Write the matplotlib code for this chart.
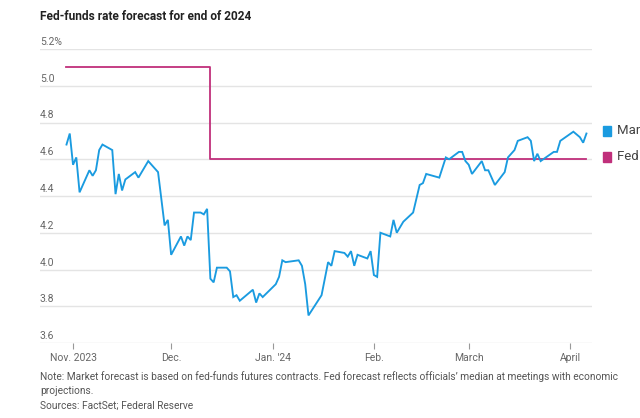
import matplotlib
matplotlib.use("Agg")
import matplotlib.pyplot as plt
import matplotlib.dates as mdates
import matplotlib.transforms as mtransforms
from matplotlib.patches import Rectangle
import pandas as pd

# ---------------- data ----------------
title = "Fed-funds rate forecast for end of 2024"

market_offsets = [-2, -1, 0, 1, 2, 5, 6, 7, 8, 9, 12, 13, 14, 15, 16, 19, 20, 23, 26, 28,
                  29, 30, 33, 34, 35, 36, 37, 39, 40, 41, 42, 43, 44, 47, 48, 49, 50, 51, 55, 56,
                  57, 58, 62, 63, 64, 65, 69, 70, 71, 72, 76, 78, 79, 80, 83, 84, 85, 86, 87, 90,
                  91, 92, 93, 94, 97, 98, 99, 101, 104, 106, 107, 108, 112, 114, 115, 118, 119, 120, 121, 122,
                  125, 126, 127, 129, 132, 133, 135, 136, 139, 140, 141, 142, 143, 147, 148, 149, 153, 155, 156, 157]
market_values = [4.68, 4.74, 4.57, 4.61, 4.42, 4.54, 4.51, 4.54, 4.65, 4.68, 4.65, 4.41, 4.52, 4.43, 4.49, 4.53, 4.50, 4.59, 4.53, 4.24,
                 4.27, 4.08, 4.18, 4.13, 4.18, 4.16, 4.31, 4.31, 4.30, 4.33, 3.95, 3.93, 4.01, 4.01, 3.99, 3.85, 3.86, 3.83, 3.89, 3.82,
                 3.87, 3.85, 3.92, 3.96, 4.05, 4.04, 4.05, 4.02, 3.92, 3.75, 3.86, 4.04, 4.02, 4.10, 4.09, 4.07, 4.10, 4.02, 4.08, 4.06,
                 4.10, 3.97, 3.96, 4.20, 4.18, 4.27, 4.20, 4.26, 4.31, 4.46, 4.47, 4.52, 4.50, 4.61, 4.60, 4.64, 4.64, 4.59, 4.57, 4.52,
                 4.59, 4.54, 4.54, 4.46, 4.53, 4.61, 4.65, 4.70, 4.72, 4.70, 4.59, 4.63, 4.59, 4.64, 4.64, 4.70, 4.75, 4.72, 4.69, 4.74]
market_dates = pd.Timestamp("2023-11-01") + pd.to_timedelta(market_offsets, unit="D")

fed_dates = pd.to_datetime(["2023-10-30", "2023-12-13", "2024-04-06"])
fed_values = [5.1, 4.6, 4.6]

y_ticks = [3.6, 3.8, 4.0, 4.2, 4.4, 4.6, 4.8, 5.0, 5.2]
y_tick_labels = ["3.6", "3.8", "4.0", "4.2", "4.4", "4.6", "4.8", "5.0", "5.2%"]
x_ticks = pd.to_datetime(["2023-11-01", "2023-12-01", "2024-01-01", "2024-02-01", "2024-03-01", "2024-04-01"])
x_tick_labels = ["Nov. 2023", "Dec.", "Jan. '24", "Feb.", "March", "April"]

legend_labels = ["Market forecast", "Fed forecast"]
note = ("Note: Market forecast is based on fed-funds futures contracts. Fed forecast reflects officials\u2019 median at meetings with economic\n"
        "projections.")
source = "Sources: FactSet; Federal Reserve"

# ---------------- style ----------------
blue = "#1a9be0"
magenta = "#c02f7b"
grid_c = "#e4e4e4"
txt_c = "#666666"
font = ["Roboto", "DejaVu Sans"]

W, H = 640, 418
fig = plt.figure(figsize=(W / 100, H / 100), dpi=100)
left, right, top, bottom = 40, 592, 49, 343
ax = fig.add_axes([left / W, 1 - bottom / H, (right - left) / W, (bottom - top) / H])

ax.plot(market_dates, market_values, color=blue, lw=1.35, solid_joinstyle="miter", zorder=3)
ax.plot(fed_dates, fed_values, color=magenta, lw=1.3, drawstyle="steps-post", zorder=2)

x0 = mdates.date2num(pd.Timestamp("2023-11-01"))
ax.set_xlim(x0 - 10.1, x0 + 158.7)
ax.set_ylim(3.6, 5.2)

for s in ax.spines.values():
    s.set_visible(False)

ax.set_yticks(y_ticks)
ax.set_yticklabels([])
ax.tick_params(axis="y", length=0)
ax.yaxis.grid(True, color=grid_c, lw=1.0)
ax.set_axisbelow(True)

trans = mtransforms.blended_transform_factory(ax.transAxes, ax.transData) + \
    mtransforms.ScaledTranslation(0, 2 / 100, fig.dpi_scale_trans)
for v, lab in zip(y_ticks, y_tick_labels):
    ax.text(0, v, lab, transform=trans, ha="left", va="bottom", fontsize=7.5,
            color=txt_c, family=font)

ax.set_xticks(x_ticks)
ax.set_xticklabels(x_tick_labels, fontsize=7.5, color=txt_c, family=font)
ax.tick_params(axis="x", length=4, width=0.8, color="#999999", pad=3)

fig.text(40 / W, 1 - 17 / H, title, fontsize=8.6, fontweight="bold", family=font,
         color="#222222", ha="left", va="center")

# legend (text runs off the right edge, as in the original)
for i, (lab, c) in enumerate(zip(legend_labels, [blue, magenta])):
    yc = [131, 157][i]
    fig.patches.append(Rectangle((603 / W, 1 - (yc + 4.5) / H), 8 / W, 9 / H,
                                 transform=fig.transFigure, color=c, figure=fig))
    fig.text(617 / W, 1 - yc / H, lab, fontsize=9.5, color="#444444", family=font,
             ha="left", va="center")

fig.text(40 / W, 1 - 371 / H, note, fontsize=7.3, color="#555555", family=font,
         ha="left", va="top", linespacing=1.5)
fig.text(40 / W, 1 - 406 / H, source, fontsize=7.3, color="#555555", family=font,
         ha="left", va="center")

fig.savefig("out.png", dpi=100)
